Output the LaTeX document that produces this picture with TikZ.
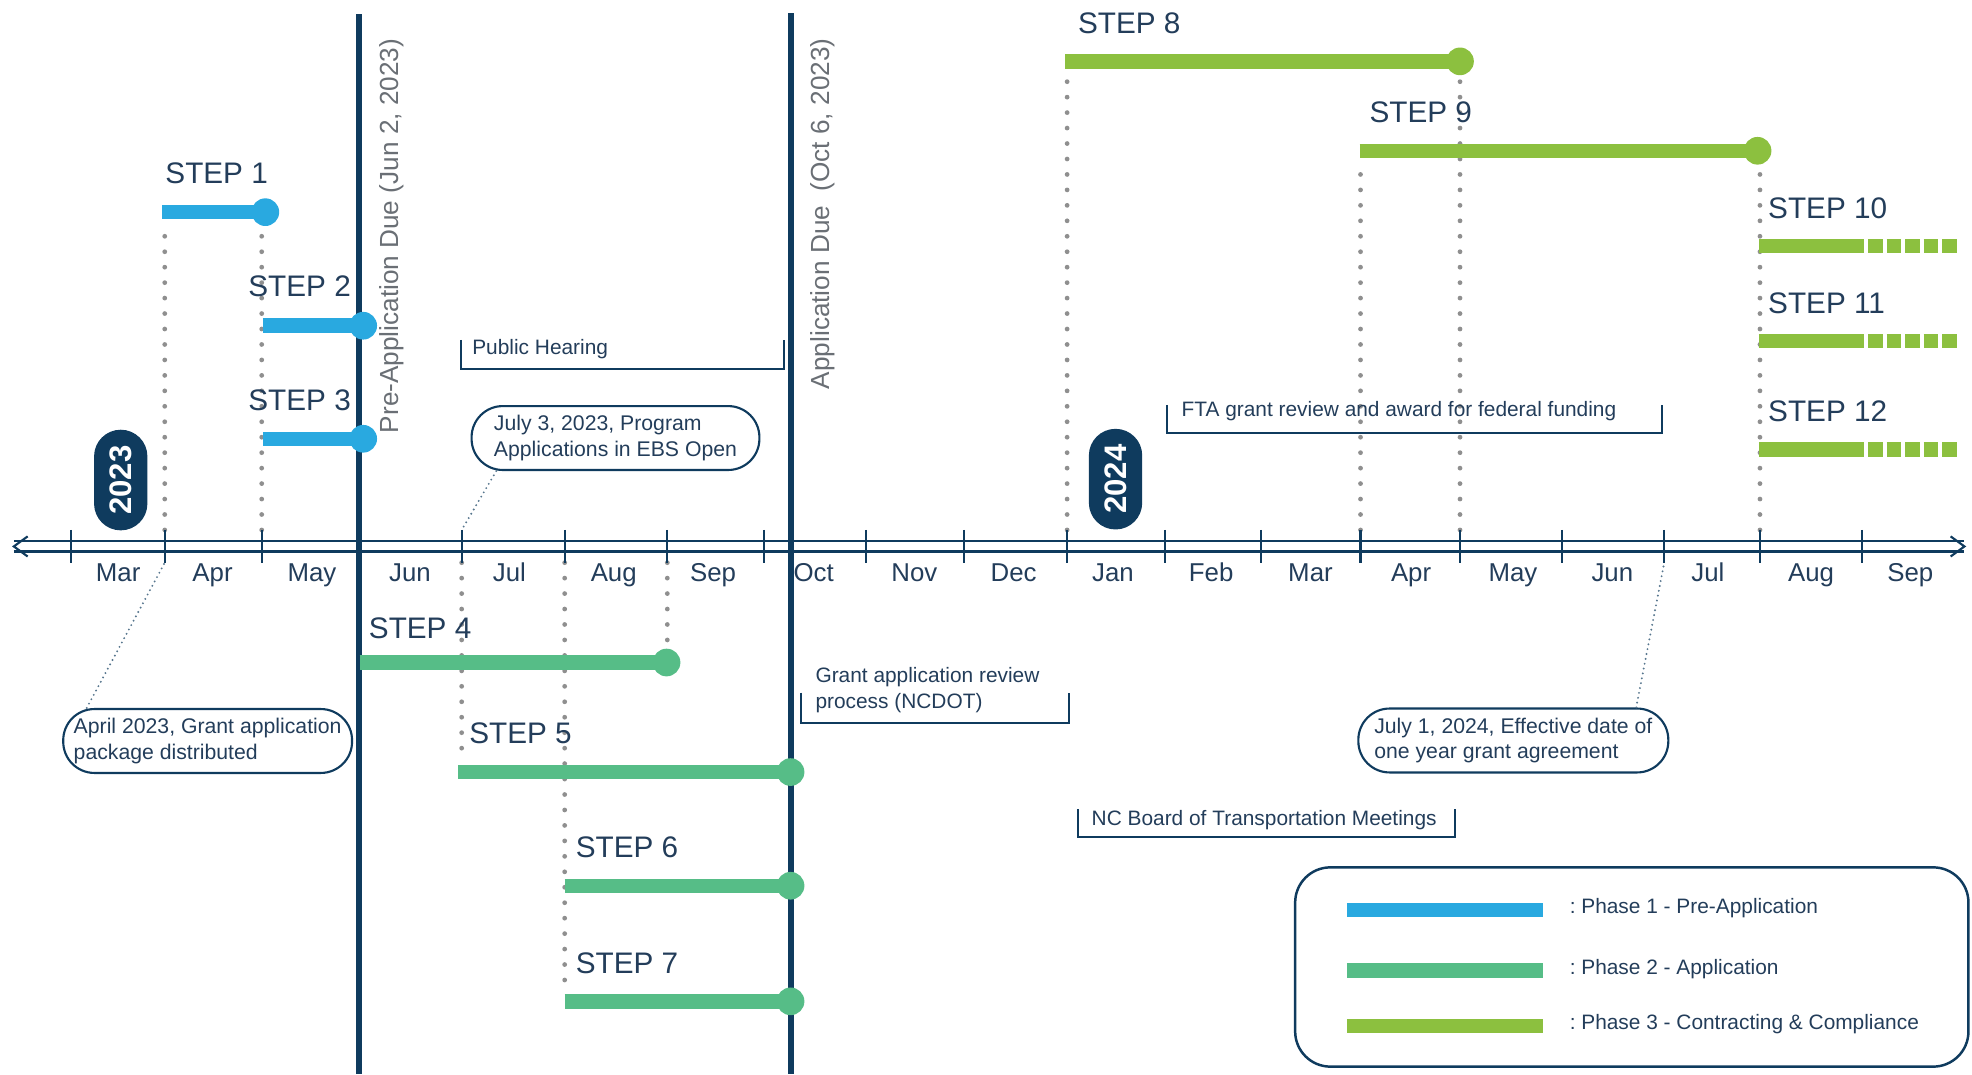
\documentclass[tikz,border=0pt]{standalone}
\usepackage{fontspec}
\setmainfont{Liberation Sans}
\usetikzlibrary{arrows.meta, positioning, shapes.misc, calc}
\definecolor{tlnavy}{HTML}{0F3B5E}
\definecolor{tlblue}{HTML}{29A9E0}
\definecolor{tlteal}{HTML}{56BD87}
\definecolor{tllime}{HTML}{8CC03F}
\definecolor{tlink}{HTML}{233D5A}
\definecolor{tlgray}{HTML}{6A6F75}
\definecolor{tldots}{HTML}{8F8F8F}
\tikzset{
    tl_axis/.style={
        draw=tlnavy,
        line width=0.6pt
    },
    tl_month/.style={
        font=\fontsize{7.3}{9}\selectfont,
        text=tlink,
        inner sep=0pt,
        anchor=base
    },
    tl_due/.style={
        draw=tlnavy,
        line width=1.8pt
    },
    tl_due_label/.style={
        font=\fontsize{7.4}{9}\selectfont,
        text=tlgray,
        rotate=90,
        anchor=base west,
        inner sep=0pt
    },
    tl_year/.style={
        rounded rectangle,
        fill=tlnavy,
        text=white,
        font=\bfseries\fontsize{8.8}{10}\selectfont,
        rotate=90,
        minimum width=1cm,
        minimum height=0.53cm,
        inner sep=0pt
    },
    tl_step/.style={
        font=\fontsize{8.4}{10}\selectfont,
        text=tlink,
        anchor=base west,
        inner sep=0pt
    },
    tl_bar/.style={
        line width=4.1pt
    },
    tl_dot/.style={
        circle,
        minimum size=0.275cm,
        inner sep=0pt
    },
    tl_guide/.style={
        draw=tldots,
        line width=1.35pt,
        line cap=round,
        dash pattern=on 0pt off 4.37pt
    },
    tl_note/.style={
        font=\fontsize{5.9}{7.3}\selectfont,
        text=tlink,
        anchor=base west,
        inner sep=0pt
    },
    tl_bracket/.style={
        draw=tlnavy,
        line width=0.5pt
    },
    tl_pill/.style={
        rectangle,
        draw=tlnavy,
        line width=0.6pt,
        rounded corners=0.31cm,
        minimum height=0.635cm,
        font=\fontsize{6}{7.3}\selectfont,
        text=tlink,
        align=left,
        inner sep=0pt
    },
    tl_leader/.style={
        draw=tlnavy!70,
        line width=0.6pt,
        line cap=round,
        dash pattern=on 0pt off 1.4pt
    },
    tl_legend/.style={
        rectangle,
        draw=tlnavy,
        line width=0.7pt,
        rounded corners=0.35cm
    }
}

\begin{document}
\begin{tikzpicture}[x=0.0125cm, y=-0.0125cm]
\useasboundingbox (0,0) rectangle (1568,854);

% Guides from the steps to the time axis
\foreach \x [count=\i] in {56.8,131,208.1,286,367.1,449,530.6,607.3,688.3,766.2,
    848.5,926.4,1002.7,1081.8,1160.9,1242.3,1323.3,1399.4,1480.2} {
  \coordinate (tt\i) at (\x,421.4);
  \coordinate (tb\i) at (\x,447.4);
}

% Step bars (start / end)
\coordinate (s1a) at (129,168.7);   \coordinate (s1b) at (211,168.7);
\coordinate (s2a) at (209,259);     \coordinate (s2b) at (288.8,259);
\coordinate (s3a) at (209,348.9);   \coordinate (s3b) at (288.8,348.9);
\coordinate (s4a) at (286,526.8);   \coordinate (s4b) at (530,526.8);
\coordinate (s5a) at (364.2,613.9); \coordinate (s5b) at (628.6,613.9);
\coordinate (s6a) at (449,704.3);   \coordinate (s6b) at (628.6,704.3);
\coordinate (s7a) at (449,796.2);   \coordinate (s7b) at (628.6,796.2);
\coordinate (s8a) at (846.9,48.8);  \coordinate (s8b) at (1160.9,48.8);
\coordinate (s9a) at (1081,119.9);  \coordinate (s9b) at (1397.5,119.9);

\draw[tl_guide] (tt2) -- ([yshift=-0.1cm]tt2 |- s1a);
\draw[tl_guide] (tt3) -- ([yshift=-0.16cm]tt3 |- s1b);
\draw[tl_guide] (tb5) -- ([yshift=0.1cm]tb5 |- s5a);
\draw[tl_guide] (tb6) -- ([yshift=0.1cm]tb6 |- s7a);
\draw[tl_guide] (tb7) -- ([yshift=0.14cm]tb7 |- s4b);
\draw[tl_guide] (tt11) -- ([yshift=-0.1cm]tt11 |- s8a);
\draw[tl_guide] (tt15) -- ([yshift=-0.16cm]tt15 |- s8b);
\draw[tl_guide] (tt14) -- ([yshift=-0.1cm]tt14 |- s9a);
\draw[tl_guide] (tt18) -- ([yshift=-0.16cm]tt18 |- s9b);

% Time axis
\coordinate (axisW) at (11,434.5);
\coordinate (axisE) at (1562,434.5);
\draw[tl_axis] ([yshift=0.05cm]axisW) -- ([yshift=0.05cm]axisE);
\draw[tl_axis] ([yshift=-0.05cm]axisW) -- ([yshift=-0.05cm]axisE);
\draw[tl_axis] ($(axisW)+(11,-8)$) -- (axisW) -- ($(axisW)+(11,8)$);
\draw[tl_axis] ($(axisE)+(-11,-8)$) -- (axisE) -- ($(axisE)+(-11,8)$);
\foreach \i in {1,...,19} {
  \draw[tl_axis] (tt\i) -- (tb\i);
}
\foreach \m/\x [count=\i] in {Mar/94,Apr/169,May/248,Jun/326,Jul/405,Aug/488,Sep/567,
    Oct/647,Nov/727,Dec/806,Jan/885,Feb/963,Mar/1042,Apr/1122,May/1203,Jun/1282,
    Jul/1358,Aug/1440,Sep/1519} {
  \node[tl_month] (mon\i) at (\x,462) {\m};
}

% Years
\node[tl_year] (yr2023) at (96,381.7) {2023};
\node[tl_year] (yr2024) at (887,381) {2024};

% Deadlines
\coordinate (preTop) at (285.5,11.5);  \coordinate (preBot) at (285.5,854);
\coordinate (appTop) at (629,10.5);    \coordinate (appBot) at (629,854);
\draw[tl_due] (preTop) -- (preBot);
\draw[tl_due] (appTop) -- (appBot);
\node[tl_due_label] (preLabel) at (317,345) {Pre-Application Due (Jun 2, 2023)};
\node[tl_due_label] (appLabel) at (659.5,310) {Application Due~ (Oct 6, 2023)};

% Phase 1
\draw[tl_bar, tlblue] (s1a) -- (s1b);
\node[tl_dot, fill=tlblue] (s1end) at (s1b) {};
\node[tl_step] (lab1) at (131,145.8) {STEP 1};
\draw[tl_bar, tlblue] (s2a) -- (s2b);
\node[tl_dot, fill=tlblue] (s2end) at (s2b) {};
\node[tl_step, anchor=base east] (lab2) at (279.5,235.9) {STEP 2};
\draw[tl_bar, tlblue] (s3a) -- (s3b);
\node[tl_dot, fill=tlblue] (s3end) at (s3b) {};
\node[tl_step, anchor=base east] (lab3) at (279.5,326.5) {STEP 3};

% Phase 2
\draw[tl_bar, tlteal] (s4a) -- (s4b);
\node[tl_dot, fill=tlteal] (s4end) at (s4b) {};
\node[tl_step] (lab4) at (292.8,507.5) {STEP 4};
\draw[tl_bar, tlteal] (s5a) -- (s5b);
\node[tl_dot, fill=tlteal] (s5end) at (s5b) {};
\node[tl_step] (lab5) at (372.6,591) {STEP 5};
\draw[tl_bar, tlteal] (s6a) -- (s6b);
\node[tl_dot, fill=tlteal] (s6end) at (s6b) {};
\node[tl_step] (lab6) at (457.3,681.9) {STEP 6};
\draw[tl_bar, tlteal] (s7a) -- (s7b);
\node[tl_dot, fill=tlteal] (s7end) at (s7b) {};
\node[tl_step] (lab7) at (457.3,774.4) {STEP 7};

% Phase 3
\draw[tl_bar, tllime] (s8a) -- (s8b);
\node[tl_dot, fill=tllime] (s8end) at (s8b) {};
\node[tl_step] (lab8) at (856.7,26.5) {STEP 8};
\draw[tl_bar, tllime] (s9a) -- (s9b);
\node[tl_dot, fill=tllime] (s9end) at (s9b) {};
\node[tl_step] (lab9) at (1088.4,97.5) {STEP 9};
\foreach \n/\y in {10/195.7,11/271.3,12/357.4} {
  \coordinate (s\n a) at (1398.6,\y);
  \draw[tl_bar, tllime] (s\n a) -- (1482,\y);
  \draw[tl_bar, tllime, dash pattern=on 4.09pt off 1.14pt] (1485.4,\y) -- (1556,\y);
  \node[tl_step] (lab\n) at ([yshift=0.277cm]1405.4,\y) {STEP \n};
}

% Brackets
\node[tl_note] (hearing) at (375,281.5) {Public Hearing};
\draw[tl_bracket] (366.3,270.3) |- (623.5,293.7) -- (623.5,270.3);
\node[tl_note] (fta) at (939,331.3) {FTA grant review and award for federal funding};
\draw[tl_bracket] (928.2,322) |- (1321.5,344) -- (1321.5,322);
\node[tl_note] (review) at (647.9,542.8) {Grant application review};
\node[tl_note] (reviewB) at (647.9,563.2) {process (NCDOT)};
\draw[tl_bracket] (637.2,550.8) |- (850.2,574.6) -- (850.2,550.8);
\node[tl_note] (board) at (867.5,656) {NC Board of Transportation Meetings};
\draw[tl_bracket] (857,643.5) |- (1157,665.8) -- (1157,643.5);

% Callouts
\node[tl_pill, minimum width=2.86cm] (pillJul23) at (489.4,348.3)
  {July 3, 2023, Program\\Applications in EBS Open};
\node[tl_pill, minimum width=2.87cm] (pillApr23) at (165.1,589.2)
  {April 2023, Grant application\\package distributed};
\node[tl_pill, minimum width=3.08cm] (pillJul24) at (1203.3,588.8)
  {July 1, 2024, Effective date of\\one year grant agreement};
\draw[tl_leader] ([xshift=0.256cm]pillJul23.south west) -- (tt5);
\draw[tl_leader] ([xshift=0.244cm]pillApr23.north west) -- (tb2);
\draw[tl_leader] ([xshift=-0.33cm]pillJul24.north east) -- (tb17);

% Legend
\node[tl_legend, minimum width=6.69cm, minimum height=1.98cm] (legend) at (1297.5,768.9) {};
\foreach \c/\y/\t [count=\i] in {tlblue/723.5/{:~Phase 1 - Pre-Application},
    tlteal/771.5/{:~Phase 2 - Application},
    tllime/815.7/{:~Phase 3 - Contracting \& Compliance}} {
  \coordinate (leg\i a) at (1071,\y);
  \coordinate (leg\i b) at (1227,\y);
  \draw[tl_bar, \c] (leg\i a) -- (leg\i b);
  \node[tl_note] (key\i) at ([yshift=-0.04cm]1247.6,\y) {\t};
}

\end{tikzpicture}
\end{document}
